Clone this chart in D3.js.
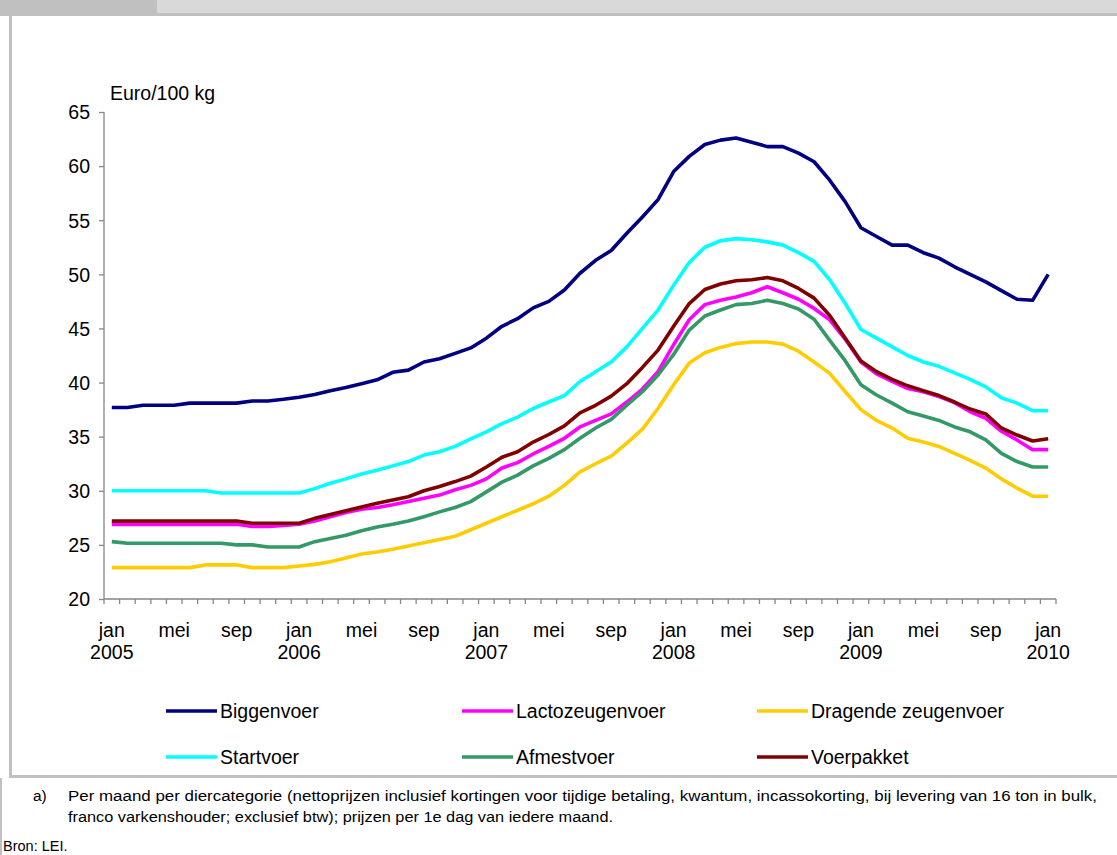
<!DOCTYPE html>
<html><head><meta charset="utf-8">
<script src="https://cdn.jsdelivr.net/npm/d3@7"></script>
<style>
body{margin:0;background:#fff}
svg{display:block}
text{font-family:"Liberation Sans",Arial,sans-serif;fill:#000}
</style>
</head><body><svg id="c" width="1117" height="855"></svg>
<script>
// ---------- data ----------
const years = ["2005","2006","2007","2008","2009","2010"];
const monthNames = ["jan","feb","mrt","apr","mei","jun","jul","aug","sep","okt","nov","dec"];
const labelMonths = ["jan","mei","sep"];
const yTicks = [20,25,30,35,40,45,50,55,60,65];
const yTitle = "Euro/100 kg";

const biggenvoer = [37.7,37.7,37.9,37.9,37.9,38.1,38.1,38.1,38.1,38.3,
  38.3,38.45,38.65,38.9,39.25,39.55,39.9,40.25,40.95,41.15,
  41.9,42.2,42.7,43.2,44.1,45.2,45.9,46.9,47.5,48.55,
  50.1,51.3,52.2,53.8,55.3,56.9,59.5,60.9,62.0,62.4,
  62.6,62.2,61.8,61.8,61.2,60.4,58.7,56.7,54.3,53.5,
  52.7,52.7,52.0,51.5,50.7,50.0,49.3,48.5,47.7,47.6,50.0];
const lactozeugenvoer = [26.9,26.9,26.9,26.9,26.9,26.9,26.9,26.9,26.9,26.7,
  26.7,26.8,26.9,27.2,27.6,28.0,28.3,28.45,28.7,29.0,
  29.3,29.6,30.1,30.5,31.1,32.1,32.6,33.4,34.1,34.85,
  35.9,36.5,37.1,38.2,39.4,41.0,43.5,45.8,47.2,47.6,
  47.9,48.3,48.85,48.3,47.7,46.85,45.8,44.0,41.9,40.8,
  40.1,39.45,39.15,38.7,38.15,37.3,36.7,35.5,34.7,33.8,33.8];
const dragendeZeugenvoer = [22.9,22.9,22.9,22.9,22.9,22.9,23.15,23.15,23.15,22.9,
  22.9,22.9,23.05,23.2,23.45,23.8,24.15,24.35,24.6,24.9,
  25.2,25.5,25.8,26.4,27.0,27.6,28.2,28.8,29.5,30.5,
  31.75,32.5,33.2,34.4,35.7,37.6,39.8,41.8,42.75,43.25,
  43.6,43.75,43.75,43.55,42.9,41.9,40.85,39.15,37.5,36.5,
  35.8,34.85,34.5,34.1,33.45,32.8,32.1,31.1,30.25,29.5,29.5];
const startvoer = [30.0,30.0,30.0,30.0,30.0,30.0,30.0,29.8,29.8,29.8,
  29.8,29.8,29.8,30.2,30.7,31.1,31.55,31.9,32.3,32.7,
  33.3,33.6,34.1,34.8,35.45,36.2,36.8,37.6,38.2,38.8,
  40.1,41.0,41.9,43.3,45.0,46.7,49.0,51.1,52.5,53.1,
  53.3,53.2,53.0,52.7,52.0,51.2,49.5,47.3,44.9,44.1,
  43.3,42.5,41.9,41.5,40.9,40.3,39.6,38.6,38.1,37.4,37.4];
const afmestvoer = [25.3,25.15,25.15,25.15,25.15,25.15,25.15,25.15,25.0,25.0,
  24.8,24.8,24.8,25.3,25.6,25.9,26.3,26.65,26.9,27.2,
  27.6,28.05,28.45,29.0,29.9,30.8,31.45,32.3,33.0,33.8,
  34.85,35.8,36.6,37.9,39.15,40.7,42.6,44.85,46.15,46.7,
  47.2,47.3,47.6,47.3,46.8,45.85,43.9,42.0,39.8,38.85,
  38.1,37.3,36.9,36.5,35.9,35.45,34.7,33.45,32.7,32.2,32.2];
const voerpakket = [27.2,27.2,27.2,27.2,27.2,27.2,27.2,27.2,27.2,27.0,
  27.0,27.0,27.0,27.45,27.8,28.15,28.5,28.85,29.15,29.45,
  30.0,30.4,30.85,31.35,32.2,33.1,33.6,34.5,35.2,36.0,
  37.2,37.9,38.75,39.9,41.4,43.0,45.2,47.3,48.6,49.1,
  49.4,49.5,49.7,49.4,48.7,47.8,46.2,44.1,42.0,41.0,
  40.3,39.7,39.25,38.8,38.2,37.55,37.1,35.8,35.15,34.6,34.8];

const seriesNames = ["Biggenvoer","Lactozeugenvoer","Dragende zeugenvoer","Startvoer","Afmestvoer","Voerpakket"];
const seriesValues = [biggenvoer,lactozeugenvoer,dragendeZeugenvoer,startvoer,afmestvoer,voerpakket];
const seriesColors = ["#000080","#ff00ff","#ffcc00","#00ffff","#339966","#800000"];

const footnoteMark = "a)";
const footnoteLines = [
  "Per maand per diercategorie (nettoprijzen inclusief kortingen voor tijdige betaling, kwantum, incassokorting, bij levering van 16 ton in bulk,",
  "franco varkenshouder; exclusief btw); prijzen per 1e dag van iedere maand."
];
const sourceText = "Bron: LEI.";

// categories (month, year)
const categories = [];
years.forEach((yr, yi) => {
  monthNames.forEach(m => {
    if (yi < years.length - 1 || m === "jan") categories.push({month: m, year: yr});
  });
});

// ---------- drawing ----------
const svg = d3.select("#c");
const FONT = 19.5;

// page frame decorations
svg.append("rect").attr("x",0).attr("y",0).attr("width",1117).attr("height",13).attr("fill","#d9d9d9");
svg.append("rect").attr("x",0).attr("y",0).attr("width",157).attr("height",13).attr("fill","#c0c0c0");
svg.append("rect").attr("x",0).attr("y",13).attr("width",1117).attr("height",3).attr("fill","#c0c0c0");
svg.append("rect").attr("x",9).attr("y",16).attr("width",3).attr("height",760).attr("fill","#c0c0c0");
svg.append("rect").attr("x",9).attr("y",775).attr("width",1108).attr("height",3).attr("fill","#c0c0c0");
svg.append("rect").attr("x",0).attr("y",778).attr("width",2).attr("height",77).attr("fill","#c0c0c0");

const x = d3.scaleBand().domain(d3.range(categories.length)).range([104, 1056]).paddingInner(0).paddingOuter(0);
const cx = i => x(i) + x.bandwidth() / 2;
const y = d3.scaleLinear().domain([20, 65]).range([599, 112]);

const axisColor = "#868686";

// y axis
const yAxis = svg.append("g").attr("transform","translate(104,0)")
  .call(d3.axisLeft(y).tickValues(yTicks).tickSize(5).tickPadding(9).tickFormat(d3.format("d")));
yAxis.selectAll("path,line").attr("stroke",axisColor).attr("stroke-width",1.3);
yAxis.select(".domain").attr("d","M0,112V599");
yAxis.selectAll("text").attr("font-size",FONT).attr("font-family",'"Liberation Sans",Arial,sans-serif').attr("fill","#000").attr("dy","0.35em");

svg.append("text").attr("x",110).attr("y",100).attr("font-size",FONT).text(yTitle);

// x axis
const xg = svg.append("g");
xg.append("line").attr("x1",104).attr("x2",1056).attr("y1",y(20)).attr("y2",y(20)).attr("stroke",axisColor).attr("stroke-width",1.3);
const tickPos = d3.range(categories.length).map(i => x(i)).concat([x.range()[1]]);
xg.selectAll("line.tk").data(tickPos).join("line").attr("class","tk")
  .attr("x1",d=>d).attr("x2",d=>d).attr("y1",y(20)).attr("y2",y(20)+5)
  .attr("stroke",axisColor).attr("stroke-width",1.3);
const labeled = categories.map((c,i)=>({c,i})).filter(d => labelMonths.includes(d.c.month));
xg.selectAll("text.m").data(labeled).join("text").attr("class","m")
  .attr("x",d=>cx(d.i)).attr("y",637).attr("text-anchor","middle").attr("font-size",FONT).text(d=>d.c.month);
xg.selectAll("text.yr").data(labeled.filter(d=>d.c.month==="jan")).join("text").attr("class","yr")
  .attr("x",d=>cx(d.i)).attr("y",659).attr("text-anchor","middle").attr("font-size",FONT).text(d=>d.c.year);

// lines
const line = d3.line().x((d,i)=>cx(i)).y(d=>y(d));
seriesValues.forEach((vals, k) => {
  svg.append("path").datum(vals).attr("d",line).attr("fill","none")
    .attr("stroke",seriesColors[k]).attr("stroke-width",3.6).attr("stroke-linejoin","round");
});

// legend
const legCols = [166, 462, 757];
const legRows = [711, 757];
seriesNames.forEach((name, k) => {
  const col = k % 3, row = Math.floor(k / 3);
  const lx = legCols[col], ly = legRows[row];
  svg.append("line").attr("x1",lx).attr("x2",lx+51).attr("y1",ly).attr("y2",ly)
    .attr("stroke",seriesColors[k]).attr("stroke-width",3.6);
  svg.append("text").attr("x",lx+54).attr("y",ly+7).attr("font-size",FONT).text(name);
});

// footnote
const FN = 15.5;
svg.append("text").attr("x",33).attr("y",801).attr("font-size",FN).text(footnoteMark);
svg.append("text").attr("x",68).attr("y",801).attr("font-size",FN)
  .attr("textLength",1029).attr("lengthAdjust","spacingAndGlyphs").text(footnoteLines[0]);
svg.append("text").attr("x",68).attr("y",822).attr("font-size",FN)
  .attr("textLength",545).attr("lengthAdjust","spacingAndGlyphs").text(footnoteLines[1]);
svg.append("text").attr("x",3).attr("y",851).attr("font-size",14.5).text(sourceText);
</script>
</body></html>
